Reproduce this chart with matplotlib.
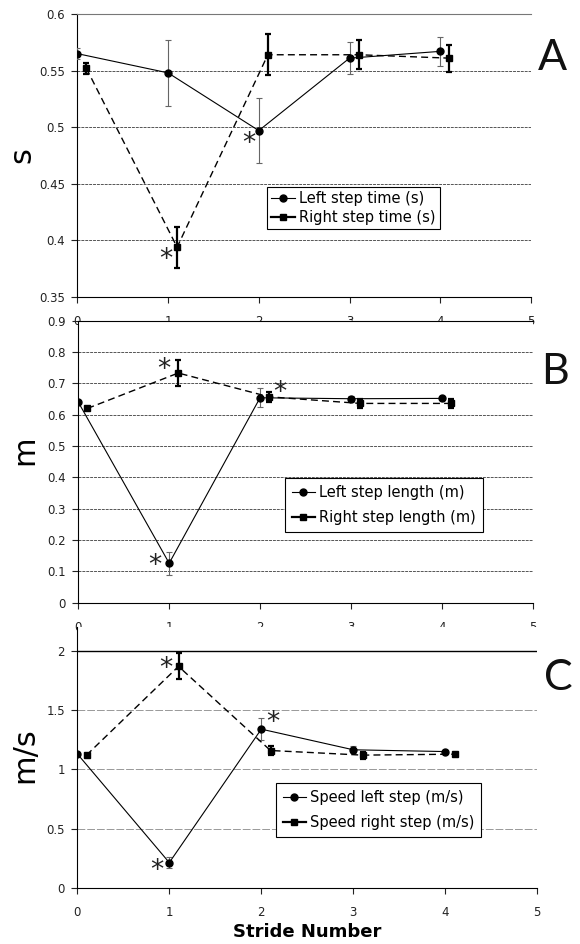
import numpy as np
import matplotlib
matplotlib.use("Agg")
import matplotlib.pyplot as plt
from matplotlib.lines import Line2D

plt.rcParams['font.family'] = ['DejaVu Sans']

# stride numbers (right step plotted slightly offset)
stride = [0, 1, 2, 3, 4]
stride_r = [0.1, 1.1, 2.1, 3.1, 4.1]

# A: step time (s)
time_left = [0.565, 0.548, 0.497, 0.561, 0.567]
time_left_err = [0.005, 0.029, 0.029, 0.014, 0.013]
time_right = [0.552, 0.394, 0.564, 0.564, 0.561]
time_right_err = [0.005, 0.018, 0.018, 0.013, 0.012]
time_star_x = [0.975, 1.885]
time_star_y = [0.386, 0.488]

# B: step length (m)
len_left = [0.640, 0.126, 0.654, 0.651, 0.652]
len_left_err = [0.004, 0.037, 0.030, 0.010, 0.005]
len_right = [0.620, 0.733, 0.657, 0.636, 0.636]
len_right_err = [0.004, 0.040, 0.015, 0.015, 0.015]
len_star_x = [0.946, 0.844, 2.22]
len_star_y = [0.755, 0.129, 0.681]

# C: speed (m/s)
spd_left = [1.131, 0.214, 1.339, 1.165, 1.150]
spd_left_err = [0.01, 0.048, 0.090, 0.030, 0.010]
spd_right = [1.120, 1.868, 1.159, 1.120, 1.128]
spd_right_err = [0.01, 0.110, 0.040, 0.030, 0.010]
spd_star_x = [0.957, 0.863, 2.13]
spd_star_y = [1.873, 0.171, 1.418]

W, H = 580, 944
fig = plt.figure(figsize=(W / 100, H / 100), dpi=100)


def box(x0, x1, ytop, ybot):
    return [x0 / W, 1 - ybot / H, (x1 - x0) / W, (ybot - ytop) / H]


axA = fig.add_axes(box(77.3, 531, 14, 297))
axB = fig.add_axes(box(78.3, 532.7, 320.7, 602.7))
axC = fig.add_axes(box(77.3, 537.3, 627, 888))


def draw(ax, yl, yle, yr, yre, sx, sy, grid_style, grid_col):
    ax.errorbar(stride, yl, yerr=yle, color='black', lw=0.8, marker='o', ms=5,
                ecolor='#666666', elinewidth=0.8, capsize=2.5, capthick=0.8, zorder=3)
    ax.errorbar(stride_r, yr, yerr=yre, color='black', lw=1.0, ls=(0, (5, 3)),
                marker='s', ms=4.5, ecolor='black', elinewidth=1.6, capsize=2.5,
                capthick=1.6, zorder=3)
    for x, y in zip(sx, sy):
        ax.annotate('*', (x, y), xytext=(0, -7.5), textcoords='offset points',
                    ha='center', va='baseline', fontsize=19, color='#222222', zorder=4)
    ax.set_xlim(0, 5)
    ax.set_xticks(range(6))
    ax.yaxis.grid(True, ls=grid_style, color=grid_col, lw=0.7)
    ax.set_axisbelow(True)
    ax.spines['right'].set_visible(False)
    ax.tick_params(direction='out', length=4, width=0.8, labelsize=8.5,
                   colors='#222222', pad=5)
    ax.tick_params(axis='x', pad=9)
    handles = [Line2D([], [], color='black', lw=0.8, marker='o', ms=5),
               Line2D([], [], color='black', lw=1.6, marker='s', ms=4.5)]
    return handles


def legend(ax, h, labels, anchor, spacing, bpad):
    leg = ax.legend(h, labels, loc='upper left', bbox_to_anchor=anchor, borderaxespad=0,
                    fancybox=False, edgecolor='black', fontsize=10.5, handlelength=1.6,
                    handletextpad=0.3, labelspacing=spacing, borderpad=bpad, framealpha=1)
    leg.get_frame().set_linewidth(0.8)


hA = draw(axA, time_left, time_left_err, time_right, time_right_err,
          time_star_x, time_star_y, (0, (3, 1)), '#555555')
axA.set_ylim(0.35, 0.6)
axA.set_yticks([0.35, 0.4, 0.45, 0.5, 0.55, 0.6])
axA.set_yticklabels(['0.35', '0.4', '0.45', '0.5', '0.55', '0.6'])
axA.spines['top'].set_color('#777777')
legend(axA, hA, ['Left step time (s)', 'Right step time (s)'], (0.418, 0.389), 0.25, 0.3)

hB = draw(axB, len_left, len_left_err, len_right, len_right_err,
          len_star_x, len_star_y, (0, (3, 1)), '#555555')
axB.set_ylim(0, 0.9)
axB.set_yticks(np.arange(0, 0.95, 0.1))
axB.set_yticklabels(['0', '0.1', '0.2', '0.3', '0.4', '0.5', '0.6', '0.7', '0.8', '0.9'])
legend(axB, hB, ['Left step length (m)', 'Right step length (m)'], (0.455, 0.441), 0.7, 0.45)

hC = draw(axC, spd_left, spd_left_err, spd_right, spd_right_err,
          spd_star_x, spd_star_y, (0, (8, 2)), '#999999')
axC.set_ylim(0, 2.2)
axC.set_yticks([0, 0.5, 1, 1.5, 2])
axC.set_yticklabels(['0', '0.5', '1', '1.5', '2'])
axC.spines['top'].set_visible(False)
axC.axhline(2, color='black', lw=1.0, zorder=2)
legend(axC, hC, ['Speed left step (m/s)', 'Speed right step (m/s)'], (0.432, 0.401), 0.7, 0.45)
axC.set_xlabel('Stride Number', fontsize=13, fontweight='bold', labelpad=3)

# y axis units
fig.text(22 / W, 1 - 155 / H, 's', rotation=90, fontsize=22, ha='center', va='center')
fig.text(25 / W, 1 - 450 / H, 'm', rotation=90, fontsize=22, ha='center', va='center')
fig.text(25 / W, 1 - 755 / H, 'm/s', rotation=90, fontsize=22, ha='center', va='center')

# panel letters
for lab, x, y in [('A', 552, 58), ('B', 555, 372), ('C', 558, 678)]:
    fig.text(x / W, 1 - y / H, lab, fontsize=31, family=['Lato', 'DejaVu Sans'],
             ha='center', va='center', color='#111111')

fig.savefig('out.png', dpi=100)
